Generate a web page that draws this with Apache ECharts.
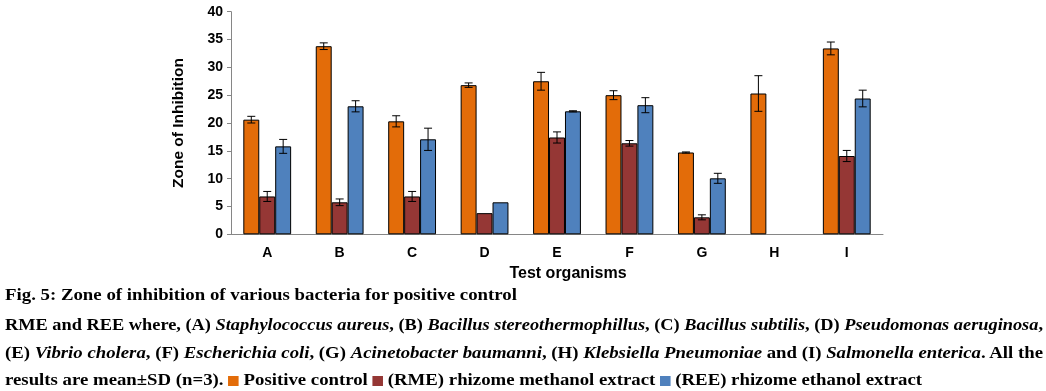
<!DOCTYPE html>
<html>
<head>
<meta charset="utf-8">
<script src="https://cdn.jsdelivr.net/npm/echarts@6/dist/echarts.min.js"></script>
<style>
  html, body { margin: 0; padding: 0; background: #fff; }
  #wrap { position: relative; width: 1046px; height: 391px; overflow: hidden; }
  #chart { position: absolute; left: 0; top: 0; width: 1046px; height: 391px; }
  .cap { position: absolute; left: 5px; font-family: "Liberation Serif", "Times New Roman", serif; font-weight: bold; font-size: 16px; color: #000; white-space: nowrap; transform-origin: 0 50%; line-height: 18px; }
  .sq { display: inline-block; width: 9px; height: 10px; vertical-align: -1px; }
</style>
</head>
<body>
<div id="wrap">
  <div id="chart"></div>
  <div class="cap" id="l1" style="top:286px">Fig. 5: Zone of inhibition of various bacteria for positive control</div>
  <div class="cap" id="l2" style="top:316px">RME and REE where, (A) <i>Staphylococcus aureus</i>, (B) <i>Bacillus stereothermophillus</i>, (C) <i>Bacillus subtilis</i>, (D) <i>Pseudomonas aeruginosa</i>,</div>
  <div class="cap" id="l3" style="top:344px">(E) <i>Vibrio cholera</i>, (F) <i>Escherichia coli</i>, (G) <i>Acinetobacter baumanni</i>, (H) <i>Klebsiella Pneumoniae</i> and (I) <i>Salmonella enterica</i>. All the</div>
  <div class="cap" id="l4" style="top:371px">results are mean±SD (n=3). <span class="sq" style="background:#E36C09"></span> Positive control <span class="sq" style="background:#953735"></span> (RME) rhizome methanol extract <span class="sq" style="background:#4F81BD"></span> (REE) rhizome ethanol extract</div>
</div>
<script>
// ---- data ----
const categories = ['A', 'B', 'C', 'D', 'E', 'F', 'G', 'H', 'I'];
const seriesNames = ['Positive control', '(RME) rhizome methanol extract', '(REE) rhizome ethanol extract'];
const positiveControl = [20.6, 33.8, 20.3, 26.8, 27.5, 25.0, 14.7, 25.3, 33.4];
const positiveControlSD = [0.6, 0.6, 1.0, 0.4, 1.6, 0.8, 0.1, 3.2, 1.15];
const rme = [6.8, 5.75, 6.8, 3.8, 17.4, 16.35, 3.05, null, 14.07];
const rmeSD = [0.9, 0.6, 0.9, 0, 1.0, 0.5, 0.45, 0, 1.0];
const ree = [15.8, 23.0, 17.07, 5.75, 22.1, 23.2, 10.06, null, 24.4];
const reeSD = [1.25, 1.0, 2.0, 0, 0.1, 1.35, 0.9, 0, 1.5];
const yTicks = [0, 5, 10, 15, 20, 25, 30, 35, 40];

const colors = ['#E36C09', '#953735', '#4F81BD'];
const values = [positiveControl, rme, ree];
const sds = [positiveControlSD, rmeSD, reeSD];
const BAR_FRAC = 0.22;

const chart = echarts.init(document.getElementById('chart'), null, { renderer: 'canvas' });

const barSeries = values.map((v, i) => ({
  name: seriesNames[i],
  type: 'bar',
  data: v.map(x => (x === null ? '-' : x)),
  barWidth: (BAR_FRAC * 100) + '%',
  barGap: '0%',
  itemStyle: { color: colors[i], borderColor: '#000', borderWidth: 1 },
  emphasis: { disabled: true },
  z: 2
}));

const errSeries = values.map((v, i) => ({
  type: 'custom',
  name: seriesNames[i] + ' SD',
  data: v.map((val, k) => [k, val === null ? 0 : val, sds[i][k]]),
  z: 5,
  silent: true,
  renderItem: function (params, api) {
    const sd = api.value(2);
    if (!sd) return null;
    const k = api.value(0), m = api.value(1);
    const band = api.size([1, 0])[0];
    const off = band * BAR_FRAC * (i - 1);
    const hi = api.coord([k, m + sd]);
    const lo = api.coord([k, m - sd]);
    const x = hi[0] + off;
    const cap = 4;
    const st = { stroke: '#000', lineWidth: 1 };
    return {
      type: 'group',
      children: [
        { type: 'line', shape: { x1: x, y1: hi[1], x2: x, y2: lo[1] }, style: st },
        { type: 'line', shape: { x1: x - cap, y1: hi[1], x2: x + cap, y2: hi[1] }, style: st },
        { type: 'line', shape: { x1: x - cap, y1: lo[1], x2: x + cap, y2: lo[1] }, style: st }
      ]
    };
  }
}));

chart.setOption({
  animation: false,
  backgroundColor: '#fff',
  grid: { left: 231, right: 163, top: 11.7, bottom: 156.7, containLabel: false },
  xAxis: {
    type: 'category',
    data: categories,
    name: 'Test organisms',
    nameLocation: 'middle',
    nameGap: 27,
    nameTextStyle: { fontFamily: 'Liberation Sans, Arial', fontWeight: 'bold', fontSize: 16, color: '#000', padding: [0, 0, 0, 22] },
    axisLine: { lineStyle: { color: '#868686', width: 1 } },
    axisTick: { show: false },
    axisLabel: { fontFamily: 'Liberation Sans, Arial', fontWeight: 'bold', fontSize: 14, color: '#000', margin: 12 }
  },
  yAxis: {
    type: 'value',
    min: yTicks[0],
    max: yTicks[yTicks.length - 1],
    interval: yTicks[1] - yTicks[0],
    name: 'Zone of Inhibition',
    nameLocation: 'middle',
    nameGap: 44,
    nameRotate: 90,
    nameTextStyle: { fontFamily: 'Liberation Sans, Arial', fontWeight: 'bold', fontSize: 15.5, color: '#000' },
    axisLine: { show: true, lineStyle: { color: '#868686', width: 1 } },
    axisTick: { show: true, length: 4, lineStyle: { color: '#868686' } },
    splitLine: { show: false },
    axisLabel: { fontFamily: 'Liberation Sans, Arial', fontWeight: 'bold', fontSize: 14, color: '#000', margin: 8 }
  },
  series: barSeries.concat(errSeries)
});

// fit caption lines to the widths seen in the reference
function fit(id, w) {
  const el = document.getElementById(id);
  const cur = el.getBoundingClientRect().width;
  el.style.transform = 'scaleX(' + (w / cur) + ')';
}
fit('l1', 512);
fit('l2', 1038);
fit('l3', 1038);
fit('l4', 917);
</script>
</body>
</html>
